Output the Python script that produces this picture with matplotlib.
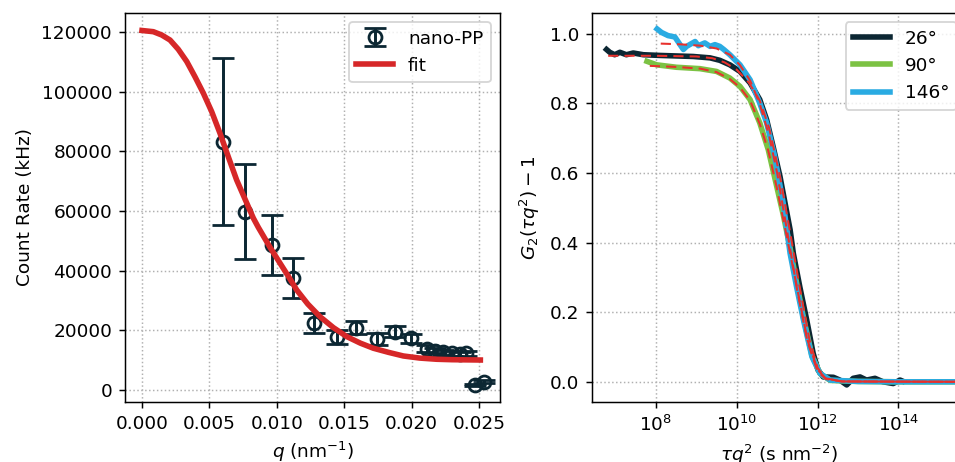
import matplotlib
matplotlib.use('Agg')
import matplotlib.pyplot as plt
from matplotlib.ticker import NullLocator

# count rate vs q
q = [0.00603, 0.00764, 0.00962, 0.01122, 0.01275, 0.01444, 0.01590, 0.01741, 0.01878,
     0.01995, 0.02112, 0.02174, 0.02235, 0.02298, 0.02359, 0.02404, 0.02470, 0.02537]
rate = [83200, 59800, 48600, 37400, 22400, 17700, 20900, 17000, 19600,
        17300, 13900, 13200, 12600, 12300, 12000, 12300, 1700, 2800]
rate_err = [28000, 16000, 10000, 6700, 3400, 2250, 2100, 1950, 1800,
            1600, 1100, 950, 900, 900, 850, 850, 400, 400]

q_fit = [0.0, 0.00084, 0.00146, 0.00208, 0.00269, 0.00332, 0.00393, 0.00455, 0.00517,
         0.00579, 0.0064, 0.00702, 0.00764, 0.00826, 0.00863, 0.00950, 0.01024, 0.01090,
         0.01148, 0.01230, 0.01320, 0.01420, 0.01519, 0.01620, 0.01716, 0.01830, 0.01939,
         0.02060, 0.02186, 0.02300, 0.02400, 0.02510]
rate_fit = [120500, 120100, 119000, 117300, 114200, 110100, 105000, 99500, 93300,
            86000, 78200, 70400, 64000, 57600, 54500, 47800, 42500, 37800,
            33500, 28800, 24600, 20900, 17900, 15700, 14000, 12600, 11400,
            10700, 10300, 10150, 10100, 10050]

# G2 - 1 curves, x as log10(tau q^2)
labels = ['26°', '90°', '146°']
colors = ['#0c2733', '#7cc243', '#2aabe2']

lx_26 = [6.78, 6.86, 6.98, 7.11, 7.27, 7.44, 7.69, 8.10, 8.92, 9.34, 9.58, 9.83, 10.08,
         10.33, 10.57, 10.74, 10.90, 11.07, 11.32, 11.40, 11.56, 11.73, 11.89, 12.01,
         12.14, 12.39, 12.55, 12.72, 12.88, 13.05, 13.21, 13.42, 13.62, 13.87, 14.04, 14.10]
g_26 = [0.955, 0.947, 0.940, 0.947, 0.940, 0.945, 0.940, 0.938, 0.935, 0.931, 0.924, 0.911, 0.892,
        0.859, 0.811, 0.753, 0.676, 0.590, 0.437, 0.369, 0.273, 0.178, 0.082, 0.034,
        0.014, 0.013, 0.005, -0.009, 0.010, 0.014, 0.005, 0.010, 0.000, -0.005, 0.005, 0.002]

lx_90 = [7.78, 8.02, 8.51, 9.09, 9.50, 9.83, 10.08, 10.33, 10.57, 10.78, 10.99, 11.15,
         11.32, 11.48, 11.65, 11.86, 12.06, 12.31, 13.00, 14.00, 15.70]
g_90 = [0.921, 0.911, 0.904, 0.900, 0.892, 0.873, 0.849, 0.811, 0.744, 0.667, 0.561, 0.480,
        0.385, 0.285, 0.185, 0.075, 0.024, 0.004, 0.001, 0.000, 0.000]

lx_146 = [8.03, 8.14, 8.30, 8.47, 8.68, 8.76, 8.88, 8.97, 9.05, 9.21, 9.34, 9.46, 9.58, 9.68,
          9.83, 10.08, 10.33, 10.57, 10.74, 10.94, 11.15, 11.32, 11.48, 11.65, 11.86,
          12.06, 12.31, 13.00, 14.00, 15.70]
g_146 = [1.014, 1.004, 0.995, 0.991, 0.955, 0.964, 0.972, 0.978, 0.966, 0.974, 0.964, 0.969,
         0.964, 0.955, 0.940, 0.911, 0.868, 0.801, 0.744, 0.647, 0.513, 0.369, 0.273, 0.178,
         0.072, 0.024, 0.005, 0.001, 0.000, 0.000]

# fitted curves (dashed)
fx_26 = [6.82, 8.00, 9.00, 9.40, 9.70, 10.00, 10.30, 10.57, 10.80, 11.07, 11.32, 11.56,
         11.80, 12.00, 12.20, 12.60, 15.70]
fg_26 = [0.937, 0.937, 0.935, 0.930, 0.918, 0.897, 0.860, 0.808, 0.730, 0.590, 0.430, 0.270,
         0.120, 0.040, 0.010, 0.001, 0.000]
fx_90 = [7.85, 8.50, 9.10, 9.50, 9.83, 10.08, 10.33, 10.57, 10.78, 10.99, 11.25, 11.50,
         11.75, 12.00, 12.20, 12.60, 15.70]
fg_90 = [0.908, 0.905, 0.900, 0.890, 0.870, 0.846, 0.808, 0.741, 0.664, 0.558, 0.410, 0.265,
         0.120, 0.035, 0.010, 0.001, 0.000]
fx_146 = [8.12, 8.60, 9.10, 9.50, 9.83, 10.08, 10.33, 10.57, 10.80, 11.00, 11.25, 11.50,
          11.75, 12.00, 12.20, 12.60, 15.70]
fg_146 = [0.972, 0.970, 0.966, 0.958, 0.940, 0.910, 0.866, 0.798, 0.708, 0.600, 0.430, 0.260,
          0.115, 0.030, 0.008, 0.001, 0.000]

fig = plt.figure(figsize=(955 / 133.33, 462 / 133.33), dpi=133.33)
ax1 = fig.add_axes([0.1309, 0.1299, 0.3927, 0.842])
ax2 = fig.add_axes([0.6199, 0.1299, 0.3916, 0.842])

# left panel
eb = ax1.errorbar(q, rate, yerr=rate_err, fmt='o', mfc='none', mec=colors[0], color=colors[0],
                  ms=7, mew=1.5, elinewidth=1.6, capsize=6, capthick=1.6, label='nano-PP', zorder=3)
fit_line, = ax1.plot(q_fit, rate_fit, color='#d62728', lw=3, label='fit', zorder=4)
ax1.set_xlim(-0.00126, 0.02656)
ax1.set_ylim(-4020, 126370)
ax1.set_xticks([0.0, 0.005, 0.01, 0.015, 0.02, 0.025])
ax1.set_xlabel('$q$ (nm$^{-1}$)')
ax1.set_ylabel('Count Rate (kHz)')
ax1.grid(True, linestyle=':')
ax1.legend([eb, fit_line], ['nano-PP', 'fit'], loc='upper right')

# right panel
data = [(lx_26, g_26, fx_26, fg_26), (lx_90, g_90, fx_90, fg_90), (lx_146, g_146, fx_146, fg_146)]
for (lx, g, fx, fg), lab, c in zip(data, labels, colors):
    ax2.plot([10 ** v for v in lx], g, color=c, lw=3, label=lab)
for (lx, g, fx, fg) in data:
    ax2.plot([10 ** v for v in fx], fg, color='#e8302c', lw=1.1, ls='--', dashes=(5, 3), zorder=5)
ax2.set_xscale('log')
ax2.set_xlim(10 ** 6.42, 10 ** 15.67)
ax2.set_ylim(-0.058, 1.060)
ax2.set_xticks([1e8, 1e10, 1e12, 1e14])
ax2.xaxis.set_minor_locator(NullLocator())
ax2.set_xlabel(r'$\tau q^2$ (s nm$^{-2}$)')
ax2.set_ylabel(r'$G_2(\tau q^2) - 1$')
ax2.grid(True, linestyle=':')
ax2.legend(loc='upper right')

fig.savefig('out.png', dpi=133.33)
